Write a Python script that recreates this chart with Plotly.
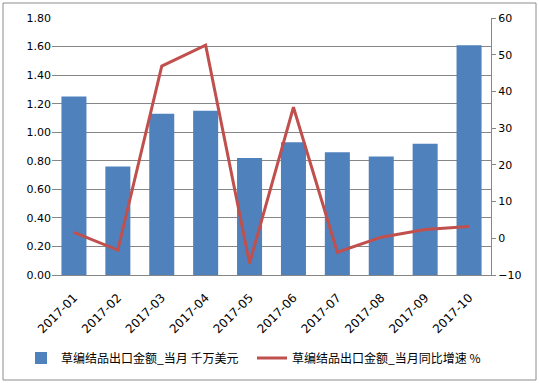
import plotly.graph_objects as go

months = ["2017-01", "2017-02", "2017-03", "2017-04", "2017-05",
          "2017-06", "2017-07", "2017-08", "2017-09", "2017-10"]
export_value = [1.25, 0.76, 1.13, 1.15, 0.82, 0.93, 0.86, 0.83, 0.92, 1.61]
yoy_growth = [1.6, -3.2, 46.9, 52.6, -6.8, 35.7, -3.8, 0.3, 2.4, 3.2]
left_ticks = [0.0, 0.2, 0.4, 0.6, 0.8, 1.0, 1.2, 1.4, 1.6, 1.8]
right_ticks = [-10, 0, 10, 20, 30, 40, 50, 60]

name_bar = "草编结品出口金额_当月 千万美元"
name_line = "草编结品出口金额_当月同比增速 %"

W, H = 539, 383
ml, mr, mt, mb = 52, 48, 18, 108
pw = W - ml - mr
ph = H - mt - mb

fig = go.Figure()
fig.add_trace(go.Bar(x=months, y=export_value, name=name_bar,
                     marker=dict(color="#4f81bd", line=dict(width=0)),
                     yaxis="y", legend="legend"))
fig.add_trace(go.Scatter(x=months, y=yoy_growth, name=name_line,
                         mode="lines", line=dict(color="#c0504d", width=3),
                         yaxis="y2", legend="legend2"))

fig.add_shape(type="rect", xref="paper", yref="paper",
              x0=(3 - ml) / pw, x1=(536 - ml) / pw,
              y0=-(380 - mt - ph) / ph, y1=1 + (mt - 3) / ph,
              line=dict(color="#8c8c8c", width=1), layer="below")

legend_y = -(358 - mt - ph) / ph
legend_font = dict(family="Noto Sans CJK SC", size=12, color="#000000")

fig.update_layout(
    width=W, height=H,
    margin=dict(l=ml, r=mr, t=mt, b=mb, autoexpand=False),
    paper_bgcolor="white", plot_bgcolor="white",
    bargap=0.43,
    font=dict(family="DejaVu Sans", size=11, color="#000000"),
    xaxis=dict(type="category", tickangle=-45, showgrid=False, showline=True,
               linecolor="#868686", linewidth=1, ticks="",
               ticklabelstandoff=10, tickfont=dict(size=12)),
    yaxis=dict(range=[0, 1.8], tickvals=left_ticks, tickformat=".2f",
               showgrid=True, gridcolor="#868686", gridwidth=1,
               zeroline=False, showline=False, ticks="",
               tickfont=dict(size=11)),
    yaxis2=dict(range=[-10, 60], tickvals=right_ticks, overlaying="y",
                side="right", showgrid=False, zeroline=False,
                showline=True, linecolor="#868686", ticks="outside",
                ticklen=4, tickcolor="#868686", tickfont=dict(size=11)),
    legend=dict(orientation="h", x=(21 - ml) / pw, xanchor="left",
                y=legend_y, yanchor="middle", font=legend_font,
                bgcolor="rgba(0,0,0,0)"),
    legend2=dict(orientation="h", x=(252 - ml) / pw, xanchor="left",
                 y=legend_y, yanchor="middle", font=legend_font,
                 bgcolor="rgba(0,0,0,0)"),
    showlegend=True,
)

fig.write_html("out.html", config={"displayModeBar": False},
               post_script="document.body.style.margin='0';")
